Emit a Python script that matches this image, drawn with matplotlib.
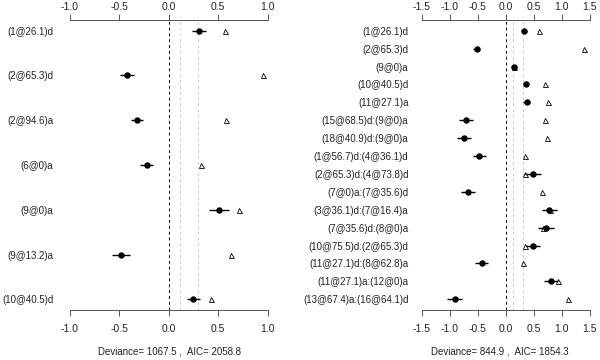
import matplotlib
matplotlib.use("Agg")
import matplotlib.pyplot as plt
import numpy as np

plt.rcParams['font.family'] = ['Liberation Sans', 'DejaVu Sans']

# --- left panel data ---
labels_l = ["(1@26.1)d", "(2@65.3)d", "(2@94.6)a", "(6@0)a", "(9@0)a",
            "(9@13.2)a", "(10@40.5)d"]
est_l = [0.31, -0.42, -0.32, -0.22, 0.51, -0.48, 0.25]
err_l = [0.07, 0.07, 0.063, 0.064, 0.10, 0.09, 0.065]
tri_l = [0.57, 0.95, 0.58, 0.33, 0.71, 0.63, 0.43]
ticks_l = [-1.0, -0.5, 0.0, 0.5, 1.0]
stat_l = "Deviance= 1067.5 ,  AIC= 2058.8"

# --- right panel data ---
labels_r = ["(1@26.1)d", "(2@65.3)d", "(9@0)a", "(10@40.5)d", "(11@27.1)a",
            "(15@68.5)d:(9@0)a", "(18@40.9)d:(9@0)a", "(1@56.7)d:(4@36.1)d",
            "(2@65.3)d:(4@73.8)d", "(7@0)a:(7@35.6)d", "(3@36.1)d:(7@16.4)a",
            "(7@35.6)d:(8@0)a", "(10@75.5)d:(2@65.3)d", "(11@27.1)d:(8@62.8)a",
            "(11@27.1)a:(12@0)a", "(13@67.4)a:(16@64.1)d"]
est_r = [0.325, -0.52, 0.15, 0.36, 0.37, -0.71, -0.745, -0.47, 0.48, -0.67,
         0.775, 0.72, 0.49, -0.43, 0.80, -0.91]
err_r = [0.06, 0.06, 0.05, 0.06, 0.06, 0.125, 0.12, 0.12, 0.14, 0.125,
         0.13, 0.14, 0.125, 0.12, 0.125, 0.13]
tri_r = [0.60, 1.39, 0.15, 0.69, 0.76, 0.69, 0.73, 0.34, 0.35, 0.645,
         0.78, 0.66, 0.35, 0.31, 0.925, 1.11]
ticks_r = [-1.5, -1.0, -0.5, 0.0, 0.5, 1.0, 1.5]
stat_r = "Deviance= 844.9 ,  AIC= 1854.3"

ref_lines = [0.12, 0.30]

W, H = 600, 360
fig = plt.figure(figsize=(6, 3.6), dpi=100)
axis_col = '#555555'
text_col = '#222222'


def panel(left_px, right_px, xlim, labels, est, err, tri, ticks, stat, stat_x):
    n = len(labels)
    top_px, bot_px = 20, 310
    ax = fig.add_axes([left_px / W, 1 - bot_px / H,
                       (right_px - left_px) / W, (bot_px - top_px) / H])
    y = np.arange(1, n + 1)
    ax.axvline(0, color='black', lw=0.7, ls=(0, (3, 3)), zorder=1)
    for r in ref_lines:
        ax.axvline(r, color='#cccccc', lw=0.7, ls=(0, (3, 3)), zorder=1)
    ax.plot(tri, y, ls='none', marker='^', ms=3.6, mfc='white', mec='black',
            mew=0.6, zorder=2)
    ax.errorbar(est, y, xerr=err, fmt='o', color='black', ms=3.6,
                elinewidth=1.0, capsize=0, zorder=3)
    sp = (n - 1) * 0.04
    ax.set_ylim(n + sp, 1 - sp)
    ax.set_xlim(*xlim)
    ax.set_yticks(y)
    ax.set_yticklabels(labels, fontsize=7, color=text_col)
    ax.tick_params(axis='y', length=0, pad=4)

    # bottom axis
    ax.set_xticks(ticks)
    ax.set_xticklabels([f"{t:.1f}" for t in ticks])
    ax.tick_params(axis='x', length=4, width=0.7, color=axis_col,
                   labelsize=7.5, labelcolor=text_col, pad=6)
    # top axis
    top = ax.secondary_xaxis('top')
    top.set_xticks(ticks)
    top.set_xticklabels([f"{t:.1f}" for t in ticks])
    top.tick_params(length=4, width=0.7, color=axis_col, labelsize=7.5,
                    labelcolor=text_col, pad=1.5)
    top.spines['top'].set_bounds(ticks[0], ticks[-1])
    top.spines['top'].set_color(axis_col)
    top.spines['top'].set_linewidth(0.7)

    for s in ['left', 'right', 'top']:
        ax.spines[s].set_visible(False)
    ax.spines['bottom'].set_bounds(ticks[0], ticks[-1])
    ax.spines['bottom'].set_color(axis_col)
    ax.spines['bottom'].set_linewidth(0.7)
    fig.text(stat_x / W, 1 - 352 / H, stat, ha='center', va='center',
             fontsize=7, color=text_col)
    return ax


# left: 0 at 168.5 px, 99 px per unit
panel(59, 278, ((59 - 168.5) / 99, (278 - 168.5) / 99),
      labels_l, est_l, err_l, tri_l, ticks_l, stat_l, 169)
# right: 0 at 505.8 px, 56.1 px per unit
panel(414, 597, ((414 - 505.8) / 56.1, (597 - 505.8) / 56.1),
      labels_r, est_r, err_r, tri_r, ticks_r, stat_r, 500)

fig.savefig("out.png", dpi=100)
